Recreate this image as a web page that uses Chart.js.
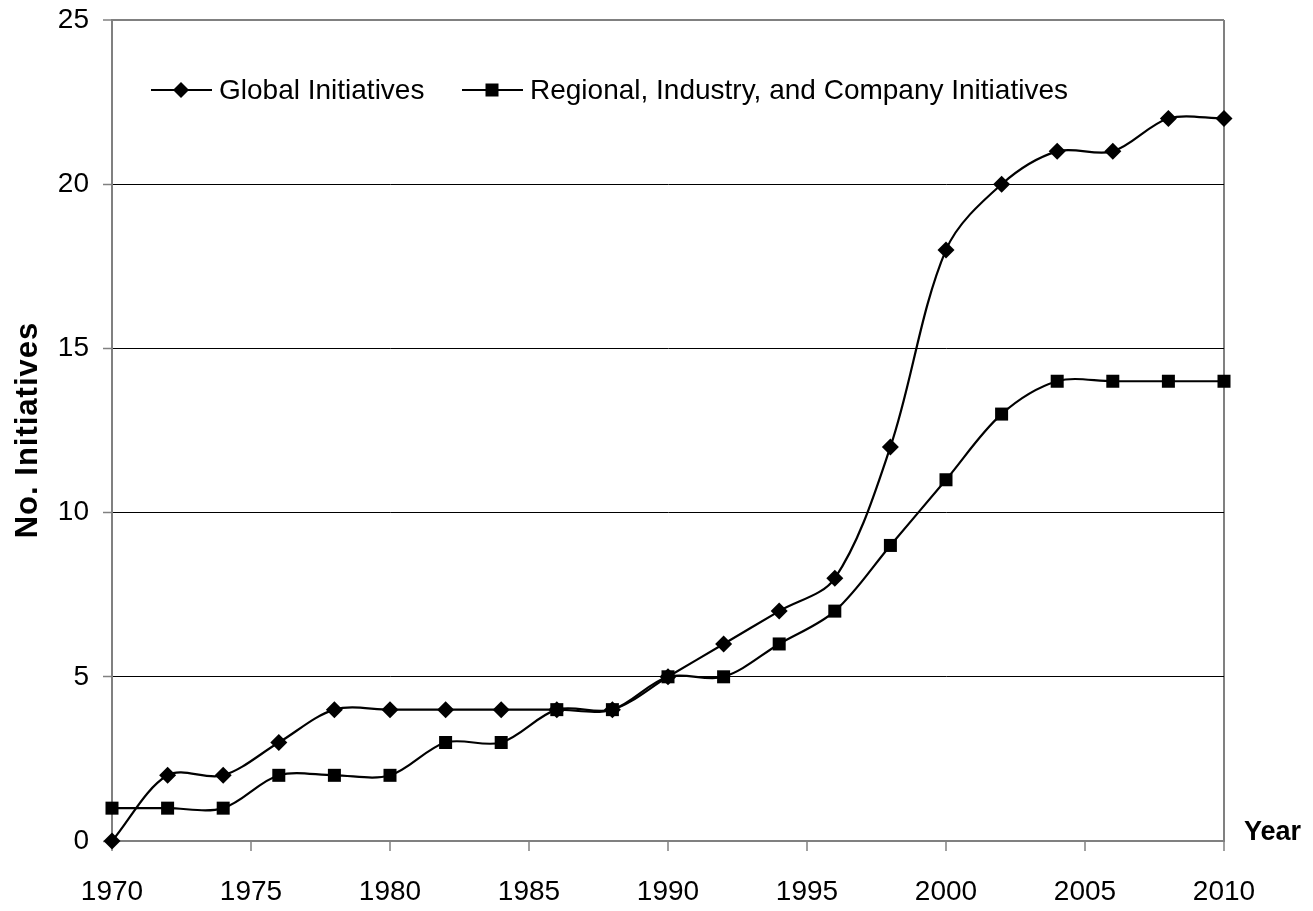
<!DOCTYPE html>
<html>
<head>
<meta charset="utf-8">
<script src="https://cdn.jsdelivr.net/npm/chart.js@4.4.1/dist/chart.umd.min.js"></script>
<style>
  html, body { margin: 0; padding: 0; background: #fff; }
  #wrap { width: 1313px; height: 911px; }
</style>
</head>
<body>
<div id="wrap"><canvas id="myChart" width="1313" height="911"></canvas></div>
<script>
// datos
const years = [1970, 1972, 1974, 1976, 1978, 1980, 1982, 1984, 1986, 1988, 1990,
               1992, 1994, 1996, 1998, 2000, 2002, 2004, 2006, 2008, 2010];
const globalInit = [0, 2, 2, 3, 4, 4, 4, 4, 4, 4, 5, 6, 7, 8, 12, 18, 20, 21, 21, 22, 22];
const regionalInit = [1, 1, 1, 2, 2, 2, 3, 3, 4, 4, 5, 5, 6, 7, 9, 11, 13, 14, 14, 14, 14];
const seriesNames = ["Global Initiatives", "Regional, Industry, and Company Initiatives"];
const xTickLabels = ["1970", "1975", "1980", "1985", "1990", "1995", "2000", "2005", "2010"];
const yTickLabels = ["0", "5", "10", "15", "20", "25"];
const xTitle = "Year";
const yTitle = "No. Initiatives";

const GRIS = "#808080";
const FONT = "'Liberation Sans', Arial, sans-serif";

function puntos(valores) {
    return years.map((y, i) => ({ x: y, y: valores[i] }));
}

// leyenda y titulos dibujados a mano
const extras = {
    id: "extras",
    afterDraw(chart) {
        const ctx = chart.ctx;
        ctx.save();
        ctx.fillStyle = "#000";
        ctx.strokeStyle = "#000";

        // leyenda
        const ly = 90;
        const items = [
            { x0: 151, style: "diamond", name: seriesNames[0] },
            { x0: 462, style: "square", name: seriesNames[1] }
        ];
        ctx.font = "28px " + FONT;
        ctx.textBaseline = "middle";
        ctx.textAlign = "left";
        items.forEach(it => {
            ctx.lineWidth = 2.2;
            ctx.beginPath();
            ctx.moveTo(it.x0, ly);
            ctx.lineTo(it.x0 + 61, ly);
            ctx.stroke();
            const cx = it.x0 + 30;
            ctx.beginPath();
            if (it.style === "diamond") {
                ctx.moveTo(cx - 8, ly);
                ctx.lineTo(cx, ly - 8);
                ctx.lineTo(cx + 8, ly);
                ctx.lineTo(cx, ly + 8);
                ctx.closePath();
            } else {
                ctx.rect(cx - 6.5, ly - 6.5, 13, 13);
            }
            ctx.fill();
            ctx.fillText(it.name, it.x0 + 68, ly + 1);
        });

        // titulo eje x
        ctx.font = "bold 27px " + FONT;
        ctx.textBaseline = "alphabetic";
        ctx.fillText(xTitle, 1244, 840);

        // titulo eje y
        ctx.translate(37, 430);
        ctx.rotate(-Math.PI / 2);
        ctx.textAlign = "center";
        ctx.font = "bold 31px " + FONT;
        if ("letterSpacing" in ctx) ctx.letterSpacing = "1px";
        ctx.fillText(yTitle, 0, 0);
        ctx.restore();
    }
};

const config = {
    type: "line",
    data: {
        datasets: [
            {
                label: seriesNames[0],
                data: puntos(globalInit),
                borderColor: "#000",
                backgroundColor: "#000",
                borderWidth: 2.2,
                pointStyle: "rectRot",
                pointRadius: 8.5,
                pointBorderWidth: 0,
                pointBackgroundColor: "#000",
                tension: 0.33,
                clip: false
            },
            {
                label: seriesNames[1],
                data: puntos(regionalInit),
                borderColor: "#000",
                backgroundColor: "#000",
                borderWidth: 2.2,
                pointStyle: "rect",
                pointRadius: 9.2,
                pointBorderWidth: 0,
                pointBackgroundColor: "#000",
                tension: 0.33,
                clip: false
            }
        ]
    },
    options: {
        responsive: false,
        animation: false,
        layout: { padding: { top: 20, right: 89, left: 0, bottom: 0 } },
        plugins: {
            legend: { display: false },
            tooltip: { enabled: false }
        },
        scales: {
            x: {
                type: "linear",
                min: 1970,
                max: 2010,
                afterFit: s => { s.height = 70; s.paddingLeft = 0; s.paddingRight = 0; },
                ticks: {
                    stepSize: 5,
                    padding: 24,
                    color: "#000",
                    font: { family: FONT, size: 28 },
                    maxRotation: 0,
                    callback: v => xTickLabels[(v - 1970) / 5]
                },
                grid: {
                    color: c => (c.tick && c.tick.value === 2010) ? GRIS : "rgba(0,0,0,0)",
                    lineWidth: 2,
                    tickColor: GRIS,
                    tickWidth: 1.5,
                    tickLength: 10
                },
                border: { color: GRIS, width: 2 }
            },
            y: {
                min: 0,
                max: 25,
                afterFit: s => { s.width = 112; s.paddingTop = 0; s.paddingBottom = 0; },
                ticks: {
                    stepSize: 5,
                    padding: 14,
                    color: "#000",
                    font: { family: FONT, size: 28 },
                    callback: v => yTickLabels[v / 5]
                },
                grid: {
                    color: c => (c.tick && c.tick.value === 25) ? GRIS : "#000",
                    lineWidth: c => (c.tick && c.tick.value === 25) ? 2 : 1,
                    tickColor: GRIS,
                    tickWidth: 1.5,
                    tickLength: 9
                },
                border: { color: GRIS, width: 2 }
            }
        }
    },
    plugins: [extras]
};

window.chart = new Chart(document.getElementById("myChart"), config);
</script>
</body>
</html>
